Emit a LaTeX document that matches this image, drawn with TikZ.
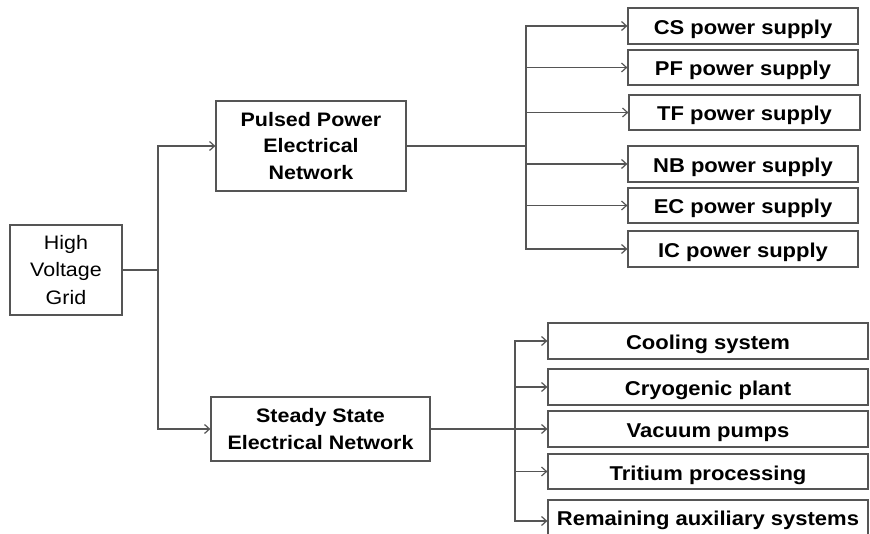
\documentclass[tikz,border=0pt]{standalone}
\usepackage{fontspec}
\setmainfont{Liberation Sans}[FakeStretch=1.1]
\usetikzlibrary{arrows.meta}
\definecolor{ln}{HTML}{555555}
\begin{document}
\begin{tikzpicture}[x=1pt,y=-1pt,
  box/.style={draw=ln,line width=1.2pt,rectangle,inner sep=0pt,align=center,font=\fontsize{19.5}{26.5}\selectfont\bfseries},
  sbox/.style={draw=ln,line width=1.2pt,rectangle,inner sep=0pt,text height=17pt,text depth=0pt,font=\fontsize{20}{24}\selectfont\bfseries},
  conn/.style={draw=ln,line width=1.2pt},
  arr/.style={conn,-{Straight Barb[length=5pt,width=9pt]}}]
\clip (0,0) rectangle (870,534);
\fill[white] (0,0) rectangle (870,534);
% main nodes
\node[box,font=\fontsize{19.5}{27.5}\selectfont,minimum width=112,minimum height=90] (hv) at (66,270) {High\\Voltage\\Grid};
\node[box,minimum width=190,minimum height=90] (pp) at (311,146) {Pulsed Power\\Electrical\\Network};
\node[box,minimum width=219,minimum height=64] (ss) at (320.5,429) {Steady State\\Electrical Network};
% power supplies
\node[sbox,minimum width=230,minimum height=36] (cs) at (743,26) {CS power supply};
\node[sbox,minimum width=230,minimum height=35] (pf) at (743,67.5) {PF power supply};
\node[sbox,minimum width=231,minimum height=35] (tf) at (744.5,112.5) {TF power supply};
\node[sbox,minimum width=230,minimum height=36] (nb) at (743,164) {NB power supply};
\node[sbox,minimum width=230,minimum height=35] (ec) at (743,205.5) {EC power supply};
\node[sbox,minimum width=230,minimum height=36] (ic) at (743,249) {IC power supply};
% steady loads
\node[sbox,minimum width=320,minimum height=36] (cool) at (708,341) {Cooling system};
\node[sbox,minimum width=320,minimum height=36] (cryo) at (708,387) {Cryogenic plant};
\node[sbox,minimum width=320,minimum height=36] (vac) at (708,429) {Vacuum pumps};
\node[sbox,minimum width=320,minimum height=35] (trit) at (708,471.5) {Tritium processing};
\node[sbox,minimum width=320,minimum height=42,text height=9pt] (rem) at (708,521) {Remaining auxiliary systems};
% junctions
\coordinate (j1) at (158,270);
\coordinate (j2) at (526,146);
\coordinate (j3) at (515,429);
% connectors
\draw[conn] (hv.east) -- (j1);
\draw[arr] (j1) |- (pp.west);
\draw[arr] (j1) |- (ss.west);
\draw[conn] (pp.east) -- (j2);
\foreach \n in {cs,pf,tf,nb,ec,ic} \draw[arr] (j2) |- (\n.west);
\draw[arr] (ss.east) -- (vac.west);
\foreach \n in {cool,cryo,trit,rem} \draw[arr] (j3) |- (\n.west);
\end{tikzpicture}
\end{document}
